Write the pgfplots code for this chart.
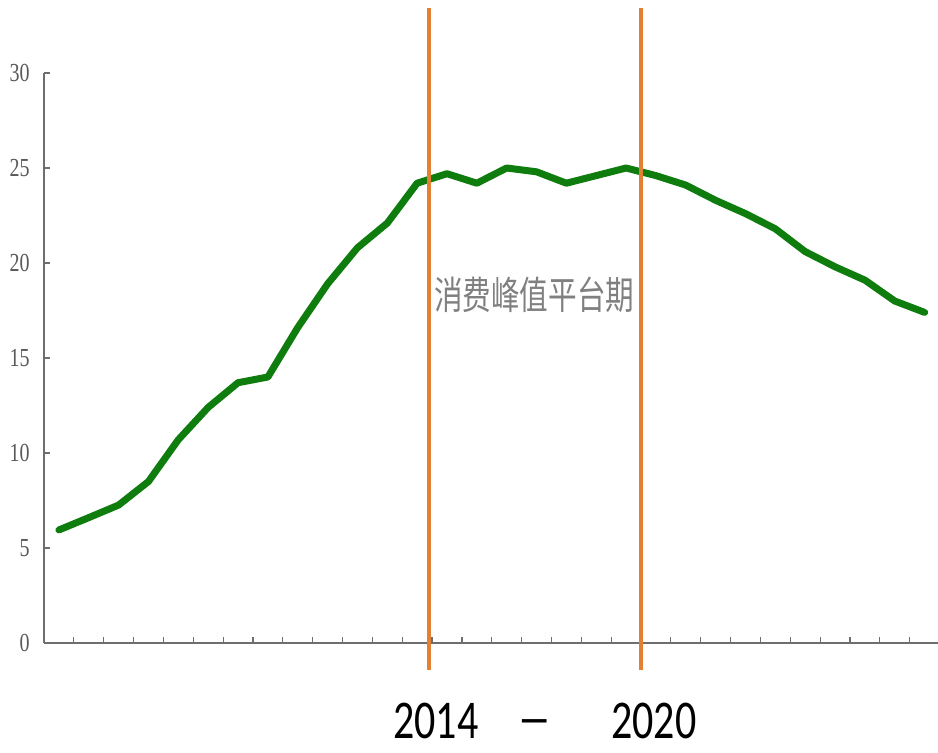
\documentclass[border=0pt]{standalone}
\usepackage{fontspec}
\usepackage{graphicx}
\usepackage{pgfplots}
\pgfplotsset{compat=1.18}
\setmainfont{Liberation Serif}
\newfontfamily\cjk{Noto Sans CJK SC}
\newfontfamily\calfont{Carlito}
\definecolor{lgreen}{RGB}{14,125,14}
\definecolor{lorange}{RGB}{226,128,52}
\definecolor{lgray}{RGB}{128,128,128}
\definecolor{axgray}{RGB}{110,110,110}
\begin{document}
\begin{tikzpicture}
\path[use as bounding box] (-22pt,-54.5pt) rectangle (447pt,321.5pt);
\begin{axis}[
  at={(0,0)}, anchor=south west,
  scale only axis,
  width=447.75pt, height=285pt,
  xmin=0, xmax=30, ymin=0, ymax=30,
  axis lines=left,
  axis line style={-, axgray, line width=0.9pt},
  tick align=inside,
  major tick length=3pt,
  tick style={axgray, line width=0.6pt},
  xtick={1,...,29},
  xticklabels={},
  ytick={0,5,...,30},
  /pgf/number format/assume math mode=true,
  yticklabel={\scalebox{1}[1.3]{\pgfmathprintnumber{\tick}}},
  yticklabel style={font=\fontsize{10pt}{12pt}\selectfont, text=black!65, inner sep=0pt, xshift=-7pt},
  clip=false,
]
\addplot[lgreen, line width=3.5pt, line join=round, line cap=round] coordinates {
(0.5,5.95) (1.5,6.6) (2.5,7.26) (3.5,8.5) (4.5,10.7) (5.5,12.4) (6.5,13.7) (7.5,14.0)
(8.5,16.6) (9.5,18.9) (10.5,20.8) (11.5,22.1) (12.5,24.2) (13.5,24.7) (14.5,24.2)
(15.5,25.0) (16.5,24.8) (17.5,24.2) (18.5,24.6) (19.5,25.0) (20.5,24.6) (21.5,24.1)
(22.5,23.3) (23.5,22.6) (24.5,21.8) (25.5,20.6) (26.5,19.8) (27.5,19.1) (28.5,18.0)
(29.5,17.4)
};
\addplot[lorange, line width=2.2pt] coordinates {(12.9,-1.42) (12.9,33.4)};
\addplot[lorange, line width=2.2pt] coordinates {(20,-1.42) (20,33.4)};
\node[text=lgray, inner sep=0pt] at (axis cs:16.42,18.3) {\scalebox{1}[1.35]{\cjk\fontsize{14.3pt}{16pt}\selectfont 消费峰值平台期}};
\node[inner sep=0pt] at (axis cs:13.13,-4.1) {\scalebox{1}[1.3]{\calfont\fontsize{21pt}{24pt}\selectfont 2014}};
\node[inner sep=0pt] at (axis cs:16.45,-4.5) {\scalebox{0.8}[1.3]{\calfont\fontsize{21pt}{24pt}\selectfont —}};
\node[inner sep=0pt] at (axis cs:20.43,-4.1) {\scalebox{1}[1.3]{\calfont\fontsize{21pt}{24pt}\selectfont 2020}};
\end{axis}
\end{tikzpicture}
\end{document}
